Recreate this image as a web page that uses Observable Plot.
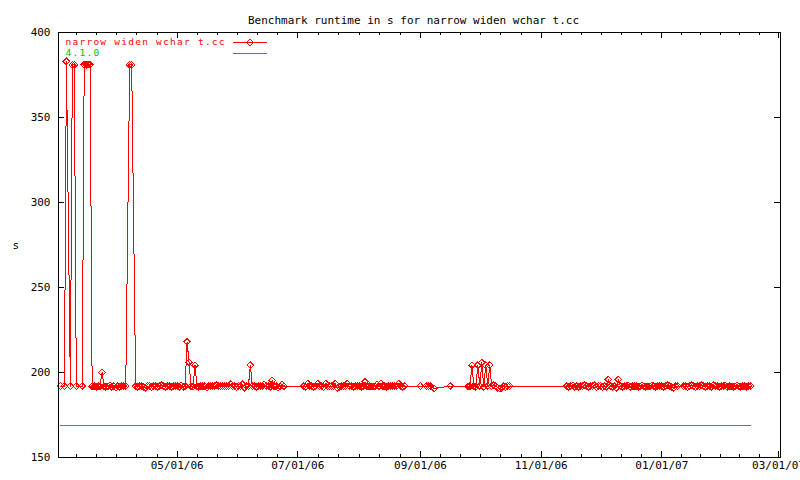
<!DOCTYPE html>
<html><head><meta charset="utf-8">
<script src="https://cdn.jsdelivr.net/npm/d3@7"></script>
<script src="https://cdn.jsdelivr.net/npm/@observablehq/plot@0.6"></script>
<style>
body{margin:0;background:#fff}
#wrap{position:relative;width:800px;height:480px;overflow:hidden}
#wrap svg path,#wrap svg line,#wrap svg rect{shape-rendering:crispEdges}
#legend{position:absolute;left:0;top:0;pointer-events:none}
</style></head><body>
<div id="wrap"></div>
<script>
// ---- data ----
const title = "Benchmark runtime in s for narrow widen wchar t.cc";
const seriesNames = ["narrow widen wchar t.cc", "4.1.0"];
const seriesColors = ["#ff0000", "#00c000"];
const yLabel = "s";

// day index = days after 2006-03-01; each run = consecutive daily readings
const runStart = [2, 4, 7, 13, 37, 40, 125, 184, 187, 191, 199, 208, 258, 317];
const runValues = [
  [192],
  [192, 383],
  [192, 381, 381, 192],
  [192, 381, 381, 381, 381, 192,
   192, 191.5, 192, 192, 200, 192, 191.5, 192, 192.5, 191.5, 192, 191, 192, 191.5, 192, 192,
   192],
  [381, 381],
  [192, 191.5, 192, 192, 191.5, 191, 192, 192, 191.5, 192,
   192, 191.5, 192, 192.5, 192, 191.5, 192, 192, 191.5, 192,
   192, 192, 191.5, 192.5, 191.5, 192, 218, 206, 192, 191.5,
   204.3, 192, 191.5, 192, 192, 192, 191, 192, 192, 192,
   192, 192.5, 192, 192, 192, 192, 192, 192, 193.2, 192,
   192, 191.5, 192, 192, 193, 191, 192, 192, 204.3, 192,
   192, 191.5, 192, 192, 192, 193, 192, 192, 191.5, 195.3,
   192, 192, 191, 192, 193, 192],
  [192, 191.5, 193.5, 192, 192, 191.5, 192, 193.5, 192, 192,
   191.5, 193.5, 192, 192, 192, 192, 193.5, 191, 191.5, 192,
   192, 192, 193.5, 192, 192, 191.5, 192, 192, 192, 191.5,
   192, 194.5, 192, 192, 192, 191.5, 192, 193, 192, 193.5,
   192, 192, 191.5, 192, 192, 192, 192, 192, 193.5, 192,
   191.5, 192],
  [192],
  [192, 192, 192],
  [190.6],
  [192],
  [192, 192, 204.3, 192, 191.5, 204.3, 192, 205.7, 191.5, 204.3,
   192, 204.3, 192, 192.5, 192, 191, 190.6, 191, 192, 191.5,
   192, 192],
  [192, 191.5, 192, 192.5, 191.5, 192, 191.5, 192, 192, 192.5,
   192, 191.5, 192, 192, 192.5, 191.5, 192, 192, 191.5, 192,
   191.5, 195.9, 192, 191.5, 192, 191, 195.9, 192, 191.5, 192,
   192, 192.5, 191.5, 192, 192, 192, 191.5, 192, 192.5, 192,
   191.5, 192, 192, 192.5, 192, 191.5, 192, 192, 192, 191.5,
   192, 192.5, 192, 191.5, 191, 192, 192],
  [192, 192, 191.5, 192, 192.5, 192, 191.5, 192, 192, 192.5,
   192, 191.5, 192, 192, 191.5, 192.5, 192, 192, 191.5, 192,
   192, 192.5, 191.5, 192, 192, 191.5, 192, 192.5, 192, 191.5,
   192, 192, 191.5, 192, 192]
];
const refDays = [2, 351];
const refValues = [168.6, 168.6];

const xDomain = ["2006-03-02", "2007-03-02"];
const xTickDates = ["2006-05-01", "2006-07-01", "2006-09-01", "2006-11-01", "2007-01-01", "2007-03-01"];
const xTickLabels = ["05/01/06", "07/01/06", "09/01/06", "11/01/06", "01/01/07", "03/01/07"];
const yTicks = [150, 200, 250, 300, 350, 400];
const yTickLabels = ["150", "200", "250", "300", "350", "400"];

// ---- build ----
const dayToDate = d => new Date(Date.UTC(2006, 2, 1 + d));
const red = [];
runStart.forEach((s, i) => runValues[i].forEach((v, j) => red.push({date: dayToDate(s + j), value: v})));
const ref = refDays.map((d, i) => ({date: dayToDate(d), value: refValues[i]}));

const majors = xTickDates.map(s => new Date(s + "T00:00:00Z"));
const domain = xDomain.map(s => new Date(s + "T00:00:00Z"));
const prevMajor = new Date(Date.UTC(2006, 2, 1));
const allMajors = [prevMajor, ...majors];
const minors = [];
for (let i = 0; i < allMajors.length - 1; i++) {
  const t0 = +allMajors[i], t1 = +allMajors[i + 1];
  for (let k = 1; k < 6; k++) {
    const t = t0 + k * (t1 - t0) / 6;
    if (t > +domain[0] && t < +domain[1]) minors.push(new Date(t));
  }
}

const W = 800, H = 480, mL = 58, mR = 20, mT = 32, mB = 23;
const fw = W - mL - mR, fh = H - mT - mB;
const font = "'DejaVu Sans Mono', monospace";

const chart = Plot.plot({
  width: W, height: H,
  marginLeft: mL, marginRight: mR, marginTop: mT, marginBottom: mB,
  x: {type: "utc", domain, axis: null},
  y: {domain: [150, 400], axis: null},
  style: {fontFamily: font, fontSize: "11px", background: "white", color: "black", overflow: "visible"},
  marks: [
    Plot.line(ref, {x: "date", y: "value", stroke: seriesColors[1], strokeWidth: 1}),
    Plot.line(red, {x: "date", y: "value", stroke: seriesColors[0], strokeWidth: 1}),
    Plot.dot(red, {x: "date", y: "value", symbol: "diamond2", r: 3, stroke: seriesColors[0], strokeWidth: 1}),
    Plot.frame({stroke: "black", strokeWidth: 1}),
    Plot.ruleX(majors, {x: d => d, insetTop: fh - 6, stroke: "black"}),
    Plot.ruleX(majors, {x: d => d, insetBottom: fh - 6, stroke: "black"}),
    Plot.ruleX(minors, {x: d => d, insetTop: fh - 3, stroke: "black"}),
    Plot.ruleX(minors, {x: d => d, insetBottom: fh - 3, stroke: "black"}),
    Plot.ruleY(yTicks, {y: d => d, insetRight: fw - 6, stroke: "black"}),
    Plot.ruleY(yTicks, {y: d => d, insetLeft: fw - 6, stroke: "black"}),
    Plot.text(majors, {x: d => d, frameAnchor: "bottom", dy: 11, text: (d, i) => xTickLabels[i], fill: "black"}),
    Plot.text(yTicks, {y: d => d, frameAnchor: "left", dx: -8, textAnchor: "end", text: (d, i) => yTickLabels[i], fill: "black"}),
    Plot.text([yLabel], {frameAnchor: "left", dx: -46, text: d => d, fill: "black"}),
    Plot.text([title], {frameAnchor: "top", dy: -16, dx: -6, text: d => d, fill: "black"})
  ]
});
const wrap = document.getElementById("wrap");
wrap.appendChild(chart);

// legend overlay
const ns = "http://www.w3.org/2000/svg";
const lg = document.createElementNS(ns, "svg");
lg.setAttribute("id", "legend");
lg.setAttribute("width", W); lg.setAttribute("height", H);
const rows = [42, 53];
seriesNames.forEach((name, i) => {
  const t = document.createElementNS(ns, "text");
  t.setAttribute("x", 65.5); t.setAttribute("y", rows[i]);
  t.setAttribute("dominant-baseline", "middle");
  t.setAttribute("fill", seriesColors[i]);
  t.setAttribute("font-family", font); t.setAttribute("font-size", "9.5px");
  t.setAttribute("letter-spacing", "1.25");
  t.textContent = name;
  lg.appendChild(t);
  const l = document.createElementNS(ns, "line");
  l.setAttribute("x1", 233); l.setAttribute("x2", 267);
  l.setAttribute("y1", rows[i] + 0.5); l.setAttribute("y2", rows[i] + 0.5);
  l.setAttribute("stroke", seriesColors[i]);
  lg.appendChild(l);
  if (i === 0) {
    const p = document.createElementNS(ns, "path");
    p.setAttribute("d", d3.symbol(d3.symbolDiamond2, 28)());
    p.setAttribute("transform", `translate(250,${rows[i] + 0.5})`);
    p.setAttribute("fill", "none"); p.setAttribute("stroke", seriesColors[i]);
    lg.appendChild(p);
  }
});
wrap.appendChild(lg);
</script>
</body></html>
